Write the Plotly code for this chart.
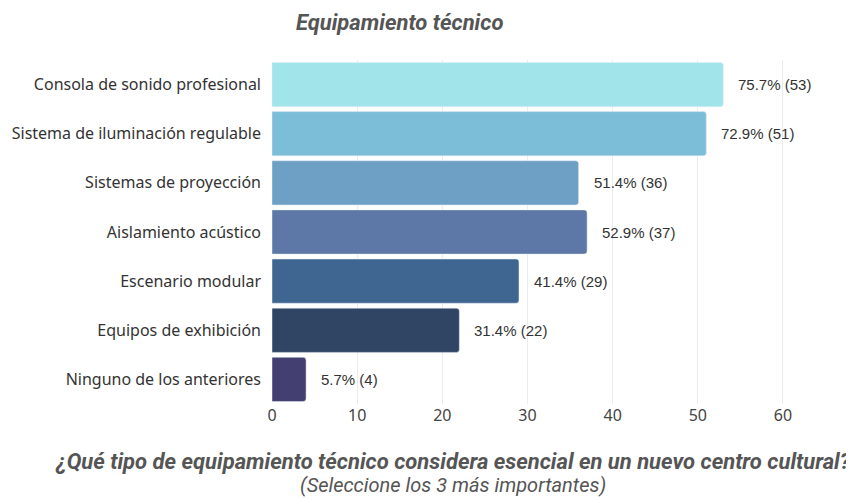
import plotly.graph_objects as go

categories = [
    'Consola de sonido profesional',
    'Sistema de iluminación regulable',
    'Sistemas de proyección',
    'Aislamiento acústico',
    'Escenario modular',
    'Equipos de exhibición',
    'Ninguno de los anteriores',
]
counts = [53, 51, 36, 37, 29, 22, 4]
percents = [75.7, 72.9, 51.4, 52.9, 41.4, 31.4, 5.7]
colors = ['#a1e5eb', '#7cbdd8', '#6e9fc5', '#5d78a7', '#3e6690', '#2f4563', '#433f71']

labels = [f'{p}% ({c})' for p, c in zip(percents, counts)]

fig = go.Figure(go.Bar(
    x=counts,
    y=categories,
    orientation='h',
    marker=dict(color=colors, cornerradius=3),
    hoverinfo='skip',
))

for cat, val, lab in zip(categories, counts, labels):
    fig.add_annotation(
        x=val, y=cat, text=lab, showarrow=False,
        xanchor='left', xshift=13,
        font=dict(family='Liberation Sans, Arial', size=15, color='#333333'),
    )

# axis caption below the chart (two lines)
fig.add_annotation(
    x=0.343, y=-0.168, xref='paper', yref='paper', xanchor='center', yanchor='middle',
    text='<b><i>¿Qué tipo de equipamiento técnico considera esencial en un nuevo centro cultural?</i></b>',
    showarrow=False,
    font=dict(family='Roboto', size=22, color='#555555'),
)
fig.add_annotation(
    x=0.343, y=-0.236, xref='paper', yref='paper', xanchor='center', yanchor='middle',
    text='<i>(Seleccione los 3 más importantes)</i>',
    showarrow=False,
    font=dict(family='Roboto', size=20, color='#555555'),
)

fig.update_layout(
    width=846, height=491,
    margin=dict(l=264, r=54, t=52, b=95, autoexpand=False),
    plot_bgcolor='white',
    paper_bgcolor='white',
    bargap=0.1,
    showlegend=False,
    title=dict(
        text='<b><i>Equipamiento técnico</i></b>',
        x=0.463, xanchor='center', y=1 - 14 / 491, yanchor='middle',
        font=dict(family='Roboto', size=22, color='#555555'),
    ),
    xaxis=dict(
        range=[0, 62], dtick=10, showgrid=True, gridcolor='#ececec',
        zeroline=False, showline=False, automargin=False,
        tickfont=dict(family='Noto Sans', size=16, color='#444444'),
    ),
    yaxis=dict(
        autorange='reversed', showgrid=False, automargin=False,
        ticklabelstandoff=10,
        tickfont=dict(family='Noto Sans', size=16, color='#333333'),
    ),
)

fig.write_html('out.html')
